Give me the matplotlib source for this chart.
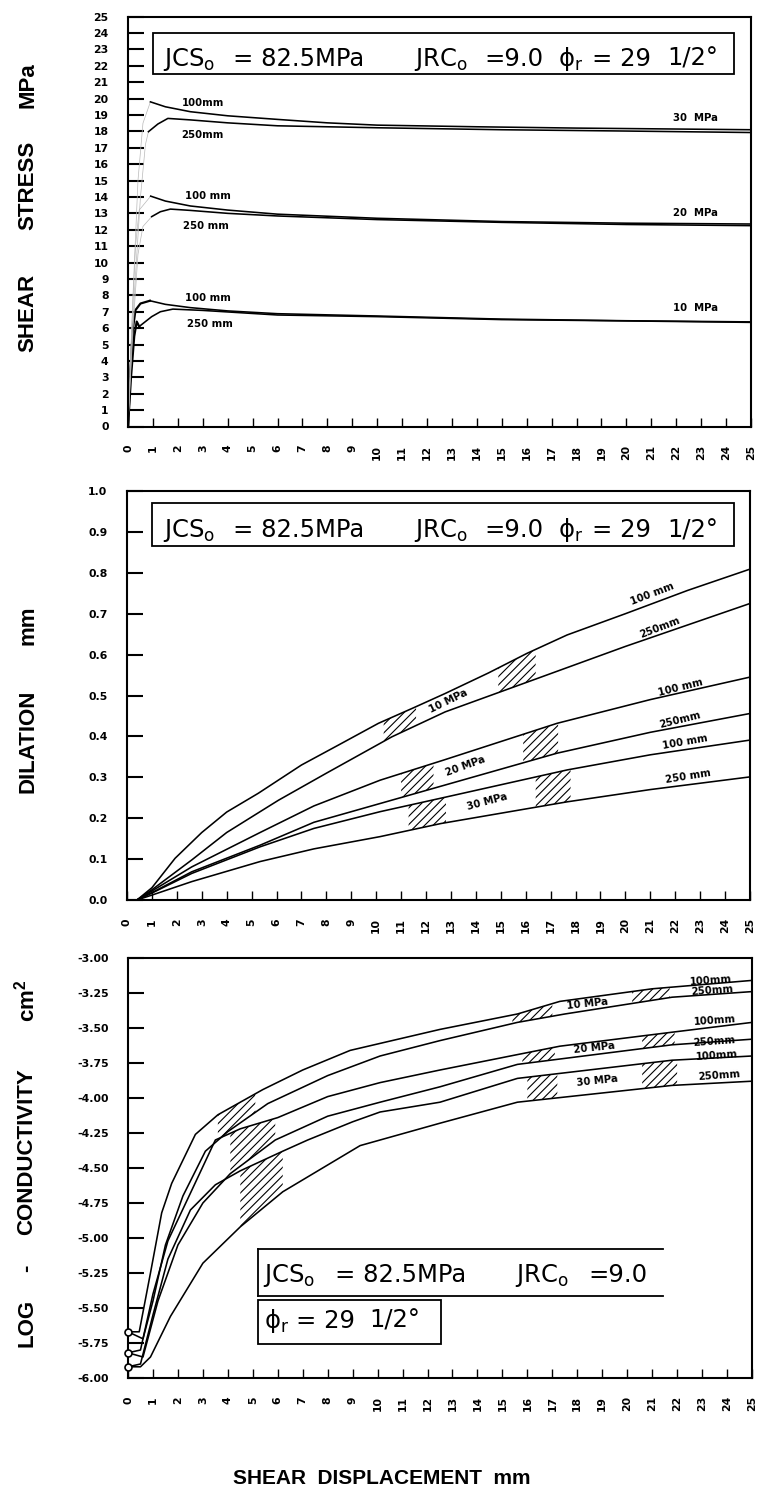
import numpy as np
import matplotlib
matplotlib.use("Agg")
import matplotlib.pyplot as plt
from matplotlib.patches import Rectangle
from matplotlib.lines import Line2D

plt.rcParams['mathtext.default'] = 'regular'
plt.rcParams['mathtext.fontset'] = 'dejavusans'
plt.rcParams['hatch.linewidth'] = 0.8

# ---------------- shared axis values ----------------
disp_ticks = list(range(0, 26))
stress_ticks = list(range(0, 26))
dil_ticks = [0.0, 0.1, 0.2, 0.3, 0.4, 0.5, 0.6, 0.7, 0.8, 0.9, 1.0]
cond_ticks = [-3.00, -3.25, -3.50, -3.75, -4.00, -4.25, -4.50, -4.75,
              -5.00, -5.25, -5.50, -5.75, -6.00]

# ---------------- shear stress curves (post-peak) ----------------
s30_100_x = [0.9, 1.5, 2.5, 4, 6, 8, 10, 14, 18, 25]
s30_100_y = [19.8, 19.5, 19.2, 18.95, 18.73, 18.52, 18.38, 18.28, 18.2, 18.1]
s30_250_x = [0.82, 1.2, 1.6, 2.5, 4, 6, 10, 15, 20, 25]
s30_250_y = [17.98, 18.45, 18.79, 18.7, 18.52, 18.34, 18.22, 18.1, 18.02, 17.93]
s20_100_x = [0.91, 1.5, 2.5, 4, 6, 10, 15, 20, 25]
s20_100_y = [14.05, 13.75, 13.45, 13.2, 12.95, 12.7, 12.5, 12.4, 12.35]
s20_250_x = [0.95, 1.3, 1.7, 2.5, 4, 6, 10, 15, 20, 25]
s20_250_y = [12.8, 13.1, 13.26, 13.18, 13.0, 12.84, 12.62, 12.45, 12.32, 12.25]
s10_100_x = [0.88, 1.5, 2.5, 4, 6, 10, 15, 20, 25]
s10_100_y = [7.67, 7.45, 7.25, 7.05, 6.88, 6.74, 6.55, 6.45, 6.38]
s10_250_x = [0.45, 0.95, 1.3, 1.8, 3, 6, 10, 15, 20, 25]
s10_250_y = [6.1, 6.7, 7.0, 7.16, 7.08, 6.8, 6.7, 6.52, 6.44, 6.35]

# pre-peak branches rising from the origin
p10_100_x = [0, 0.1, 0.2, 0.3, 0.5, 0.88]
p10_100_y = [0, 3.5, 6.0, 7.1, 7.5, 7.67]
p10_250_x = [0, 0.12, 0.25, 0.35, 0.45]
p10_250_y = [0, 3.0, 5.5, 6.4, 6.1]
p20_100_x = [0, 0.15, 0.3, 0.45, 0.91]
p20_100_y = [0, 6.0, 11.0, 13.2, 14.05]
p20_250_x = [0, 0.2, 0.4, 0.6, 0.95]
p20_250_y = [0, 6.0, 10.5, 12.2, 12.8]
p30_100_x = [0, 0.2, 0.4, 0.6, 0.9]
p30_100_y = [0, 8.0, 15.0, 18.5, 19.8]
p30_250_x = [0, 0.25, 0.5, 0.7, 0.82]
p30_250_y = [0, 8.0, 14.0, 17.2, 17.98]

# ---------------- dilation curves ----------------
d10_100_x = [0.4, 1, 1.93, 3, 4, 5.27, 7, 8.49, 10.09, 11.5, 12.77, 14.5, 16.05, 17.66, 20, 22.5, 25]
d10_100_y = [0, 0.03, 0.102, 0.165, 0.215, 0.261, 0.33, 0.379, 0.432, 0.47, 0.505, 0.555, 0.603, 0.648, 0.70, 0.757, 0.809]
d10_250_x = [0.4, 1, 2.6, 4, 6.08, 8, 10.63, 12.77, 16.3, 20, 25]
d10_250_y = [0, 0.025, 0.098, 0.165, 0.244, 0.31, 0.399, 0.46, 0.538, 0.62, 0.725]
d20_100_x = [0.4, 1, 2.6, 5.34, 7.5, 10.16, 12.7, 17.26, 21, 25]
d20_100_y = [0, 0.022, 0.081, 0.165, 0.23, 0.293, 0.342, 0.432, 0.49, 0.545]
d20_250_x = [0.4, 1, 2.6, 5.34, 7.5, 10.16, 12.7, 17.26, 21, 25]
d20_250_y = [0, 0.018, 0.069, 0.134, 0.19, 0.236, 0.28, 0.359, 0.41, 0.456]
d30_100_x = [0.4, 1, 2.6, 5.34, 7.5, 10.16, 12.6, 17.66, 21, 25]
d30_100_y = [0, 0.017, 0.065, 0.13, 0.175, 0.216, 0.249, 0.318, 0.355, 0.391]
d30_250_x = [0.4, 1, 2.6, 5.34, 7.5, 10.16, 12.6, 17.66, 21, 25]
d30_250_y = [0, 0.012, 0.045, 0.094, 0.125, 0.155, 0.187, 0.24, 0.27, 0.301]

d_hatch_10 = [(10.3, 11.6), (14.9, 16.4)]
d_hatch_20 = [(11.0, 12.3), (15.9, 17.3)]
d_hatch_30 = [(11.3, 12.8), (16.4, 17.8)]

# ---------------- log conductivity curves ----------------
c10_100_x = [0, 0.45, 0.9, 1.35, 1.75, 2.7, 3.6, 5.4, 7.0, 8.9, 12.5, 15.6, 17.3, 21, 25]
c10_100_y = [-5.67, -5.67, -5.25, -4.82, -4.61, -4.26, -4.12, -3.94, -3.80, -3.66, -3.51, -3.40, -3.31, -3.22, -3.16]
c10_250_x = [0, 0.6, 1.0, 1.5, 2.2, 3.1, 4.0, 5.6, 8.0, 10.1, 12.5, 15.6, 17.5, 21.8, 25]
c10_250_y = [-5.67, -5.72, -5.45, -5.05, -4.70, -4.38, -4.24, -4.04, -3.84, -3.70, -3.59, -3.46, -3.40, -3.28, -3.24]
c20_100_x = [0, 0.5, 1.0, 1.6, 2.5, 3.5, 4.5, 6.0, 8.0, 10.1, 12.5, 15.6, 17.3, 21.8, 25]
c20_100_y = [-5.82, -5.80, -5.40, -5.02, -4.68, -4.30, -4.22, -4.14, -3.99, -3.89, -3.80, -3.69, -3.63, -3.53, -3.46]
c20_250_x = [0, 0.6, 1.2, 2.0, 3.0, 4.1, 5.9, 8, 10.1, 12.5, 15.6, 21.8, 25]
c20_250_y = [-5.82, -5.85, -5.45, -5.05, -4.75, -4.54, -4.30, -4.13, -4.03, -3.92, -3.76, -3.62, -3.58]
c30_100_x = [0, 0.5, 1.0, 1.6, 2.5, 3.5, 4.5, 6.2, 7.2, 9, 10.1, 12.5, 15.6, 21.8, 25]
c30_100_y = [-5.92, -5.90, -5.55, -5.15, -4.80, -4.62, -4.52, -4.38, -4.30, -4.17, -4.10, -4.03, -3.86, -3.73, -3.70]
c30_250_x = [0, 0.5, 0.9, 1.7, 3.0, 4.5, 6.2, 9.3, 12.5, 15.6, 21.8, 25]
c30_250_y = [-5.92, -5.92, -5.85, -5.56, -5.18, -4.92, -4.67, -4.34, -4.18, -4.03, -3.91, -3.88]
c_start = [-5.67, -5.82, -5.92]

c_hatch_10 = [(3.6, 5.1), (15.4, 17.0), (20.2, 21.7)]
c_hatch_20 = [(4.1, 5.9), (15.8, 17.1), (20.6, 21.9)]
c_hatch_30 = [(4.5, 6.2), (16.0, 17.2), (20.6, 22.0)]

pressure_labels = ["10 MPa", "20 MPa", "30 MPa"]

# ---------------- figure ----------------
W, H = 760, 1499
fig = plt.figure(figsize=(W / 100, H / 100), dpi=100)


def px_axes(left, top, right, bottom):
    return fig.add_axes([left / W, 1 - bottom / H, (right - left) / W, (bottom - top) / H])


def ftext(xp, yp, s, **kw):
    fig.text(xp / W, 1 - yp / H, s, **kw)


ax1 = px_axes(128, 16.6, 751, 426.5)
ax2 = px_axes(127, 491, 750, 900)
ax3 = px_axes(128, 958, 752, 1378)

LW = 1.15
tick_font = dict(family='DejaVu Sans', weight='bold', size=7.8)


def style_axes(ax, yticks, ylabels, ylim):
    ax.set_xlim(0, 25)
    ax.set_ylim(*ylim)
    ax.set_xticks(disp_ticks)
    ax.set_xticklabels([str(t) for t in disp_ticks], rotation=90, **tick_font)
    ax.set_yticks(yticks)
    ax.set_yticklabels(ylabels, **tick_font)
    ax.tick_params(axis='y', direction='in', length=11.5, width=1.5, pad=14)
    ax.tick_params(axis='x', direction='in', length=6.5, width=1.0, pad=13)
    for s in ax.spines.values():
        s.set_linewidth(1.5)


def box(ax, x0, y0, x1, y1, sides='all'):
    if sides == 'all':
        ax.add_patch(Rectangle((x0, y0), x1 - x0, y1 - y0, transform=ax.transAxes,
                               fill=False, lw=1.3, ec='k', clip_on=False))
    else:
        for xs, ys in [((x0, x1), (y0, y0)), ((x0, x1), (y1, y1)), ((x0, x0), (y0, y1))]:
            ax.add_line(Line2D(xs, ys, transform=ax.transAxes, lw=1.3, color='k', clip_on=False))


box_font = dict(family='DejaVu Sans', size=17.5, va='baseline', ha='left')
small = dict(family='DejaVu Sans', weight='bold', size=7.3)

# pieces of the parameter caption and their left edges (pixels)
caption_parts = [r"JCS$_{o}$", "= 82.5MPa", r"JRC$_{o}$", "=9.0", r"ϕ$_{r}$", "= 29", "1/2°"]
caption_x = [163, 233, 414, 484, 558, 592, 667]

# ---- panel 1: shear stress ----
style_axes(ax1, stress_ticks, [str(t) for t in stress_ticks], (0, 25))
for xs, ys in [(p10_100_x, p10_100_y), (p10_250_x, p10_250_y)]:
    ax1.plot(xs, ys, color='k', lw=1.6)
for xs, ys in [(p20_100_x, p20_100_y), (p20_250_x, p20_250_y),
               (p30_100_x, p30_100_y), (p30_250_x, p30_250_y)]:
    ax1.plot(xs, ys, color='0.72', lw=0.5)
for xs, ys in [(s30_100_x, s30_100_y), (s30_250_x, s30_250_y),
               (s20_100_x, s20_100_y), (s20_250_x, s20_250_y),
               (s10_100_x, s10_100_y), (s10_250_x, s10_250_y)]:
    ax1.plot(xs, ys, color='k', lw=LW)

ax1.text(2.15, 19.7, "100mm", ha='left', va='center', **small)
ax1.text(2.15, 17.8, "250mm", ha='left', va='center', **small)
ax1.text(2.29, 14.05, "100 mm", ha='left', va='center', **small)
ax1.text(2.2, 12.2, "250 mm", ha='left', va='center', **small)
ax1.text(2.29, 7.83, "100 mm", ha='left', va='center', **small)
ax1.text(2.36, 6.25, "250 mm", ha='left', va='center', **small)
for lab, yv in zip(pressure_labels, [7.2, 13.0, 18.8]):
    ax1.text(21.85, yv, lab.replace(" ", "  "), ha='left', va='center', **small)
box(ax1, 0.040, 0.86, 0.973, 0.96)
for s, xp in zip(caption_parts, caption_x):
    ftext(xp, 66, s, **box_font)

# ---- panel 2: dilation ----
style_axes(ax2, dil_ticks, [f"{t:.1f}" for t in dil_ticks], (0, 1.0))
dil = [(d10_100_x, d10_100_y), (d10_250_x, d10_250_y),
       (d20_100_x, d20_100_y), (d20_250_x, d20_250_y),
       (d30_100_x, d30_100_y), (d30_250_x, d30_250_y)]
for xs, ys in dil:
    ax2.plot(xs, ys, color='k', lw=LW)


def hatch_band(ax, upper, lower, spans):
    for a, b in spans:
        xx = np.linspace(a, b, 30)
        ax.fill_between(xx, np.interp(xx, *upper), np.interp(xx, *lower),
                        facecolor='none', edgecolor='k', hatch='////', linewidth=0)


for i, spans in enumerate([d_hatch_10, d_hatch_20, d_hatch_30]):
    hatch_band(ax2, dil[2 * i], dil[2 * i + 1], spans)

for i, (lab, xc, rot) in enumerate(zip(pressure_labels, [12.9, 13.6, 14.45], [26, 20, 15])):
    up, lo = dil[2 * i], dil[2 * i + 1]
    yc = 0.5 * (np.interp(xc, *up) + np.interp(xc, *lo))
    ax2.text(xc, yc, lab, ha='center', va='center', rotation=rot,
             rotation_mode='anchor', **small)

for (t, xc, yc, rot) in [("100 mm", 21.1, 0.748, 21), ("250mm", 21.4, 0.665, 21),
                         ("100 mm", 22.2, 0.52, 14), ("250mm", 22.2, 0.44, 14),
                         ("100 mm", 22.4, 0.386, 10), ("250 mm", 22.5, 0.303, 9)]:
    ax2.text(xc, yc, t, ha='center', va='center', rotation=rot, rotation_mode='anchor', **small)

box(ax2, 0.040, 0.866, 0.974, 0.971)
for s, xp in zip(caption_parts, caption_x):
    ftext(xp, 537, s, **box_font)

# ---- panel 3: log conductivity ----
style_axes(ax3, cond_ticks, [f"{t:.2f}" for t in cond_ticks], (-6.0, -3.0))
cond = [(c10_100_x, c10_100_y), (c10_250_x, c10_250_y),
        (c20_100_x, c20_100_y), (c20_250_x, c20_250_y),
        (c30_100_x, c30_100_y), (c30_250_x, c30_250_y)]
for xs, ys in cond:
    ax3.plot(xs, ys, color='k', lw=LW)
ax3.plot([0] * len(c_start), c_start, 'o', ms=5, mfc='white', mec='k', mew=1.2,
         clip_on=False, zorder=5)
for i, spans in enumerate([c_hatch_10, c_hatch_20, c_hatch_30]):
    hatch_band(ax3, cond[2 * i], cond[2 * i + 1], spans)

for i, (lab, xc) in enumerate(zip(pressure_labels, [18.4, 18.7, 18.8])):
    up, lo = cond[2 * i], cond[2 * i + 1]
    yc = 0.5 * (np.interp(xc, *up) + np.interp(xc, *lo))
    ax3.text(xc, yc, lab, ha='center', va='center', rotation=6,
             rotation_mode='anchor', **small)

for (t, xc, yc) in [("100mm", 23.35, -3.16), ("250mm", 23.4, -3.23),
                    ("100mm", 23.5, -3.45), ("250mm", 23.5, -3.60),
                    ("100mm", 23.6, -3.70), ("250mm", 23.7, -3.84)]:
    ax3.text(xc, yc, t, ha='center', va='center', rotation=4, rotation_mode='anchor', **small)

box(ax3, 0.208, 0.195, 0.857, 0.307, sides='open')
for s, xp in zip(caption_parts[:4], [263, 335, 515, 588]):
    ftext(xp, 1282, s, **box_font)
box(ax3, 0.208, 0.081, 0.502, 0.186)
for s, xp in zip(caption_parts[4:], [264, 296, 369]):
    ftext(xp, 1328, s, **box_font)

# ---- axis titles ----
title_font = dict(family='Liberation Sans', weight='bold', size=16, rotation=90,
                  ha='center', va='center')

ftext(28, 313, "SHEAR", **title_font)
ftext(28, 185, "STRESS", **title_font)
ftext(28, 85, "MPa", **title_font)
ftext(28, 741, "DILATION", **title_font)
ftext(28, 625, "mm", **title_font)
ftext(27, 1323, "LOG", **title_font)
ftext(27, 1268, "-", **title_font)
ftext(27, 1152, "CONDUCTIVITY", **title_font)
ftext(27, 1001, "cm$^{2}$", **title_font)
ftext(382, 1478, "SHEAR  DISPLACEMENT  mm", family='Liberation Sans', weight='bold',
      size=15, ha='center', va='center')

fig.savefig("out.png", dpi=100)
